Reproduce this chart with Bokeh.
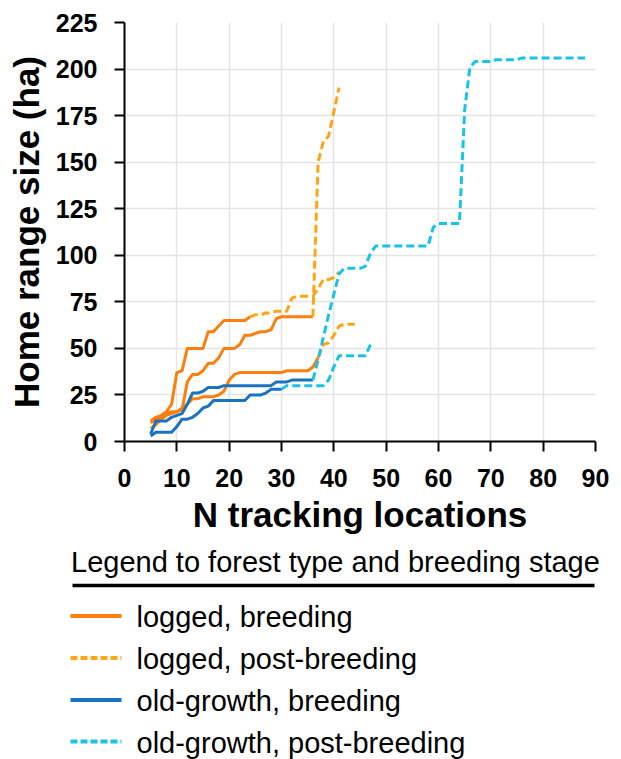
from bokeh.plotting import figure
from bokeh.models import Range1d, FixedTicker
from bokeh.layouts import column
from bokeh.embed import file_html
from bokeh.resources import INLINE
from bokeh.core.properties import value

# ---------------- data ----------------
x_ticks = [0, 10, 20, 30, 40, 50, 60, 70, 80, 90]
y_ticks = [0, 25, 50, 75, 100, 125, 150, 175, 200, 225]

x_title = "N tracking locations"
y_title = "Home range size (ha)"
legend_title = "Legend to forest type and breeding stage"
legend_labels = ["logged, breeding", "logged, post-breeding",
                 "old-growth, breeding", "old-growth, post-breeding"]

# logged, breeding (three birds)
lb1_n = list(range(5, 25))
lb1_ha = [11, 13, 14, 16, 20, 37, 38, 50, 50, 50, 50, 59, 59, 62, 65, 65, 65, 65, 65, 67]
lb2_n = list(range(5, 37))
lb2_ha = [7, 9, 12, 14, 15, 16, 17, 32, 36, 36, 38, 42, 42, 45, 50, 50, 50, 52, 57, 57,
          58, 59, 59, 60, 66, 67, 67, 67, 67, 67, 67, 67]
lb3_n = list(range(5, 38))
lb3_ha = [10, 12, 13, 15, 16, 16, 18, 20, 23, 23, 24, 24, 24, 25, 27, 33, 36, 37, 37, 37,
          37, 37, 37, 37, 37, 37, 38, 38, 38, 38, 38, 40, 45]

# logged, post-breeding (continuations)
lp1_n = list(range(24, 42))
lp1_ha = [67, 68, 68, 69, 69, 70, 70, 70, 77, 78, 78, 78, 78, 82, 87, 87, 88, 91]
lp2_n = list(range(36, 42))
lp2_ha = [67, 150, 161, 164, 177, 190]
lp3_n = list(range(37, 45))
lp3_ha = [45, 52, 53, 57, 62, 63, 63, 63]

# old-growth, breeding (two birds)
ob1_n = list(range(5, 37))
ob1_ha = [4, 11, 11, 11, 13, 14, 15, 20, 26, 26, 27, 29, 29, 29, 30, 30, 30, 30, 30, 30,
          30, 30, 30, 30, 32, 32, 32, 33, 33, 33, 33, 33]
ob2_n = list(range(5, 31))
ob2_ha = [3, 5, 5, 5, 5, 8, 12, 12, 13, 15, 18, 19, 22, 22, 22, 22, 22, 22, 22, 25,
          25, 25, 26, 28, 28, 28]

# old-growth, post-breeding (continuations)
op1_n = list(range(36, 89))
op1_ha = [33, 44, 56, 68, 79, 90, 93, 93, 93, 93, 94, 101, 105, 105, 105, 105, 105, 105,
          105, 105, 105, 105, 105, 115, 117, 117, 117, 117, 117, 178, 201, 204, 204, 204,
          204, 205, 205, 205, 205, 205, 206, 206, 206, 206, 206, 206, 206, 206, 206, 206,
          206, 206, 206]
op2_n = list(range(30, 48))
op2_ha = [28, 30, 30, 30, 30, 30, 30, 30, 30, 33, 40, 46, 46, 46, 46, 46, 46, 52]

# ---------------- styles ----------------
C_LB = "#FF7F0E"
C_LP = "#FFA616"
C_OB = "#1B72BE"
C_OP = "#19C3E6"
DASH = "8 4"
FONT = "Liberation Sans"

P_BOTTOM = 105  # bottom border of chart figure

p = figure(frame_width=471, frame_height=419,
           x_range=Range1d(0, 90), y_range=Range1d(0, 225),
           min_border_left=124, min_border_right=26, min_border_top=22,
           min_border_bottom=P_BOTTOM,
           output_backend="svg", toolbar_location=None)
p.frame_align = False
p.outline_line_color = None
p.background_fill_color = "white"
p.border_fill_color = "white"

for ax, ticks in ((p.xaxis, x_ticks), (p.yaxis, y_ticks)):
    ax.ticker = FixedTicker(ticks=ticks)
    ax.axis_line_color = "black"
    ax.axis_line_width = 2
    ax.major_tick_line_color = "black"
    ax.major_tick_line_width = 2
    ax.major_tick_out = 10
    ax.major_tick_in = 0
    ax.minor_tick_line_color = None
    ax.major_label_text_font = FONT
    ax.major_label_text_font_style = "bold"
    ax.major_label_text_font_size = "25px"
    ax.major_label_text_color = "black"
    ax.axis_label_text_font = FONT
    ax.axis_label_text_font_style = "bold"
    ax.axis_label_text_color = "black"
    ax.major_label_standoff = 17

p.xaxis.axis_label = x_title
p.xaxis.axis_label_text_font_size = "35px"
p.xaxis.axis_label_standoff = 5
p.yaxis.axis_label = y_title
p.yaxis.axis_label_text_font_size = "35px"
p.yaxis.axis_label_standoff = 7

p.xgrid.ticker = FixedTicker(ticks=x_ticks)
p.ygrid.ticker = FixedTicker(ticks=y_ticks)
p.grid.grid_line_color = "#E4E4E4"
p.grid.grid_line_width = 1.5

series = [
    (lb1_n, lb1_ha, C_LB, "solid"), (lb2_n, lb2_ha, C_LB, "solid"), (lb3_n, lb3_ha, C_LB, "solid"),
    (ob1_n, ob1_ha, C_OB, "solid"), (ob2_n, ob2_ha, C_OB, "solid"),
    (lp1_n, lp1_ha, C_LP, DASH), (lp2_n, lp2_ha, C_LP, DASH), (lp3_n, lp3_ha, C_LP, DASH),
    (op1_n, op1_ha, C_OP, DASH), (op2_n, op2_ha, C_OP, DASH),
]
for n, ha, col, dash in series:
    p.line(n, ha, line_color=col, line_width=3, line_dash=dash, line_join="round")

# ---------------- legend panel ----------------
P_H = 22 + 419 + P_BOTTOM
Q_H = 759 - P_H
q = figure(frame_width=621, frame_height=Q_H, x_range=Range1d(0, 621), y_range=Range1d(Q_H, 0),
           min_border=0, x_axis_location=None, y_axis_location=None,
           output_backend="svg", toolbar_location=None)
q.frame_align = False
q.grid.visible = False
q.outline_line_color = None

TXT_SHIFT = 10  # rendered alphabetic baseline sits this much below the anchor
q.text(x=[70.5], y=[571.7 - P_H - TXT_SHIFT], text=[legend_title], text_font=value(FONT),
       text_font_size="29px", text_baseline="alphabetic", text_align="left",
       text_color="black")
q.segment(x0=[72], y0=[585 - P_H], x1=[594], y1=[585 - P_H], line_color="black", line_width=3.3)

leg_colors = [C_LB, C_LP, C_OB, C_OP]
leg_dash = ["solid", "7 3", "solid", "7 3"]
leg_y = [615.5, 657.5, 699.5, 741.0]
for lab, col, dash, yy in zip(legend_labels, leg_colors, leg_dash, leg_y):
    q.segment(x0=[70], y0=[yy - P_H], x1=[121], y1=[yy - P_H], line_color=col, line_width=4,
              line_dash=dash)
    q.text(x=[136], y=[yy - P_H + 11 - TXT_SHIFT], text=[lab], text_font=value(FONT),
           text_font_size="29px", text_baseline="alphabetic", text_align="left",
           text_color="black")

layout = column(p, q)
open("out.html", "w").write(file_html(layout, INLINE))
